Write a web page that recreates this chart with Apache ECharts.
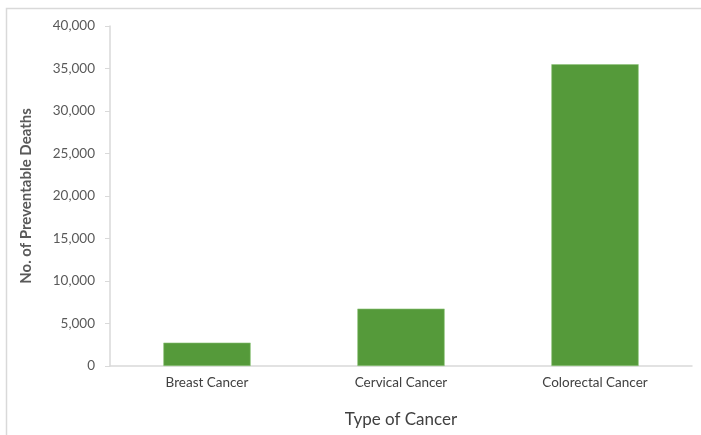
<!DOCTYPE html>
<html>
<head>
<meta charset="utf-8">
<script src="https://cdn.jsdelivr.net/npm/echarts@6/dist/echarts.min.js"></script>
<style>
  html, body { margin: 0; padding: 0; background: #fff; }
  #chart { width: 701px; height: 435px; }
</style>
</head>
<body>
<div id="chart"></div>
<script>
// data
var categories = ['Breast Cancer', 'Cervical Cancer', 'Colorectal Cancer'];
var deaths = [2750, 6750, 35500];
var yTicks = [0, 5000, 10000, 15000, 20000, 25000, 30000, 35000, 40000];

var myChart = echarts.init(document.getElementById('chart'));

var font = 'Lato, "Open Sans", sans-serif';

var option = {
    animation: false,
    graphic: [{
        type: 'rect',
        shape: { x: 6.5, y: 8.5, width: 720, height: 460 },
        style: { fill: 'none', stroke: '#d9d9d9', lineWidth: 1.5 },
        silent: true
    }],
    grid: {
        left: 110,
        right: 9,
        top: 26,
        bottom: 69,
        outerBoundsMode: 'none'
    },
    xAxis: {
        type: 'category',
        data: categories,
        name: 'Type of Cancer',
        nameLocation: 'middle',
        nameGap: 45,
        nameTextStyle: { color: '#404040', fontSize: 17, fontFamily: font },
        axisLine: { lineStyle: { color: '#d9d9d9', width: 1.5 } },
        axisTick: { show: false },
        axisLabel: { color: '#404040', fontSize: 13.5, fontFamily: font, margin: 10 }
    },
    yAxis: {
        type: 'value',
        min: yTicks[0],
        max: yTicks[yTicks.length - 1],
        interval: yTicks[1] - yTicks[0],
        name: 'No. of Preventable Deaths',
        nameLocation: 'middle',
        nameGap: 76,
        nameTextStyle: { color: '#595959', fontSize: 15, fontWeight: 'bold', fontFamily: font },
        splitLine: { show: false },
        axisLine: { show: true, lineStyle: { color: '#d9d9d9', width: 1.5 } },
        axisTick: { show: true, length: 5, lineStyle: { color: '#d9d9d9' } },
        axisLabel: {
            color: '#595959',
            fontSize: 13.5,
            fontFamily: font,
            margin: 15,
            formatter: function (v) { return v.toLocaleString('en-US'); }
        }
    },
    series: [{
        type: 'bar',
        data: deaths,
        barWidth: '45%',
        itemStyle: { color: '#559a3a', borderColor: '#8fc47c', borderWidth: 0.6 }
    }]
};
myChart.setOption(option);
</script>
</body>
</html>
